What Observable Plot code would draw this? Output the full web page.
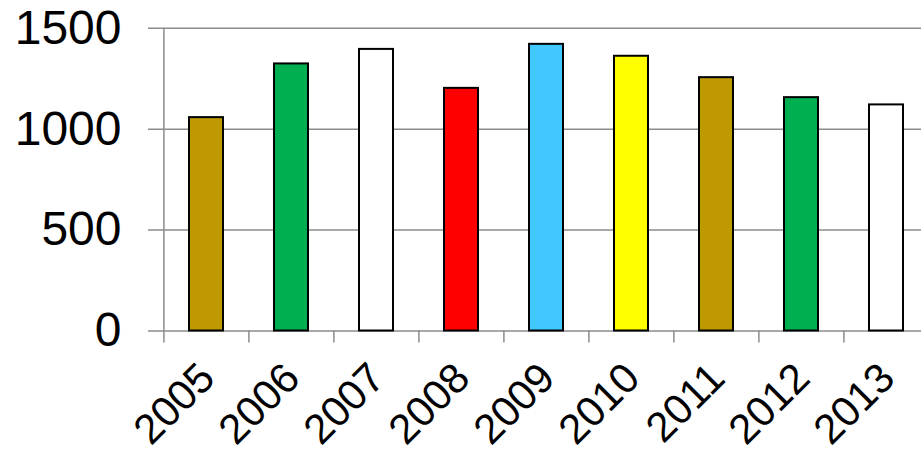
<!DOCTYPE html>
<html><head><meta charset="utf-8">
<script src="https://cdn.jsdelivr.net/npm/d3@7"></script>
<script src="https://cdn.jsdelivr.net/npm/@observablehq/plot@0.6"></script>
<style>html,body{margin:0;padding:0;background:#fff;overflow:hidden}</style>
</head><body><div id="chart"></div>
<script>
const years = ["2005","2006","2007","2008","2009","2010","2011","2012","2013"];
const values = [1057, 1323, 1395, 1202, 1420, 1361, 1255, 1156, 1120];
const colors = ["#BF9900","#00B050","#FFFFFF","#FF0000","#40C8FF","#FFFF00","#BF9900","#00B050","#FFFFFF"];
const yTicks = [0, 500, 1000, 1500];

const data = years.map((year, i) => ({year, value: values[i], color: colors[i]}));
const x0 = 162.7, x1 = 929.5;
const step = (x1 - x0) / years.length;
const grid = "#8c8c8c";

const chart = Plot.plot({
  width: 921,
  height: 455,
  marginLeft: 148,
  marginRight: 0,
  marginTop: 27.7,
  marginBottom: 124.5,
  style: {fontFamily: "'Liberation Sans', Arial, sans-serif", background: "#fff", color: "#000"},
  x: {domain: years, range: [x0, x1], paddingInner: 0.6, paddingOuter: 0.3, label: null},
  y: {domain: [0, 1500], label: null},
  color: {type: "identity"},
  marks: [
    Plot.ruleY(yTicks, {stroke: grid, strokeWidth: 1.5}),
    Plot.ruleX([years[0]], {dx: -step / 2, y1: 0, y2: 1500, stroke: grid, strokeWidth: 1.5}),
    Plot.axisX({tickSize: 12, tickFormat: () => "", label: null, dx: -step / 2, stroke: grid, strokeWidth: 1.5, strokeOpacity: 1}),
    Plot.barY(data, {x: "year", y: "value", fill: d => d.color, stroke: "#000", strokeWidth: 2}),
    Plot.axisX({tickSize: 0, tickRotate: -45, tickPadding: 40, dx: 1, fontSize: 42, fill: "#000", label: null}),
    Plot.axisY({ticks: yTicks, tickSize: 0, tickPadding: 27, fontSize: 48, fill: "#000", label: null, tickFormat: d => String(d)})
  ]
});
document.getElementById("chart").appendChild(chart);
</script>
</body></html>
